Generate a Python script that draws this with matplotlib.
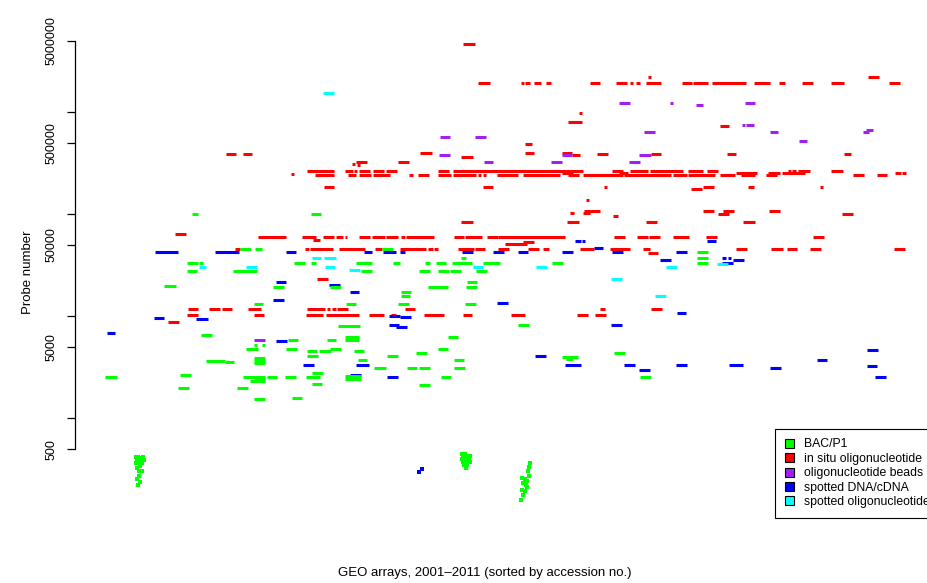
"""
GEO arrays: probe number per array, coloured by technology.
"""

import matplotlib

matplotlib.use("Agg")
import matplotlib.pyplot as plt
from matplotlib.patches import Patch
from matplotlib.ticker import FixedLocator, NullFormatter

plt.rcParams["font.family"] = ["Liberation Sans", "DejaVu Sans"]

# categories and colours (R named colours)
categories = ["BAC/P1", "in situ oligonucleotide", "oligonucleotide beads",
              "spotted DNA/cDNA", "spotted oligonucleotide"]
colors = ["#00FF00", "#FF0000", "#A020F0", "#0000FF", "#00FFFF"]

# runs of consecutive arrays on the same platform: (first array, last array, probe number)
red_runs = [
    (463, 475, 4670000),
    (648, 651, 2220000), (868, 879, 2220000),
    (478, 490, 1940000), (521, 524, 1940000), (525, 530, 1940000), (534, 541, 1940000),
    (546, 551, 1940000), (590, 600, 1940000), (616, 627, 1940000), (630, 633, 1940000),
    (636, 640, 1940000), (646, 661, 1940000), (682, 692, 1940000), (693, 708, 1940000),
    (712, 746, 1940000), (754, 770, 1940000), (779, 785, 1940000), (802, 813, 1940000),
    (831, 844, 1940000), (889, 900, 1940000),
    (579, 582, 984000), (568, 582, 803000), (720, 729, 734000), (525, 532, 489000),
    (420, 432, 399000), (525, 534, 399000), (562, 572, 399000),
    (226, 236, 390000), (243, 252, 390000), (597, 608, 390000), (651, 661, 390000),
    (727, 736, 390000), (844, 851, 390000),
    (572, 580, 381000), (461, 473, 365000),
    (356, 367, 326000), (398, 409, 326000), (352, 355, 311000), (357, 360, 304000),
    (291, 294, 248000),
    (307, 334, 265000), (345, 353, 265000), (354, 357, 265000), (359, 370, 265000),
    (373, 384, 265000), (386, 397, 265000), (438, 449, 265000), (453, 583, 265000),
    (612, 623, 265000), (630, 648, 265000), (650, 683, 265000), (688, 703, 265000),
    (707, 718, 265000), (788, 791, 265000), (792, 796, 265000), (798, 810, 265000),
    (831, 843, 265000),
    (562, 573, 254000), (619, 628, 254000), (736, 757, 254000), (768, 780, 254000),
    (782, 805, 254000), (895, 901, 254000), (902, 906, 254000),
    (315, 334, 243000), (348, 356, 243000), (359, 371, 243000), (373, 390, 243000),
    (409, 413, 243000), (418, 429, 243000), (438, 451, 243000), (453, 476, 243000),
    (478, 481, 243000), (483, 486, 243000), (497, 518, 243000), (523, 560, 243000),
    (568, 579, 243000), (583, 623, 243000), (624, 665, 243000), (654, 671, 243000),
    (673, 687, 243000), (688, 715, 243000), (720, 735, 243000), (741, 755, 243000),
    (766, 777, 243000), (853, 864, 243000), (877, 887, 243000),
    (324, 334, 185000), (483, 493, 185000), (604, 607, 185000), (703, 714, 185000),
    (748, 754, 185000), (820, 823, 185000),
    (691, 702, 177000), (586, 589, 138000),
    (584, 600, 108000), (703, 714, 108000), (723, 734, 108000), (769, 780, 108000),
    (570, 574, 103000), (583, 590, 103000),
    (718, 729, 100700), (842, 853, 100700), (613, 618, 96200),
    (461, 473, 84000), (567, 579, 84000), (646, 657, 84000), (743, 755, 84000),
    (175, 186, 64100),
    (258, 286, 59800), (302, 316, 59800), (323, 334, 59800), (336, 343, 59800),
    (345, 347, 59800), (359, 370, 59800), (372, 385, 59800), (386, 398, 59800),
    (401, 405, 59800), (406, 434, 59800), (454, 464, 59800), (465, 482, 59800),
    (487, 498, 59800), (498, 565, 59800), (614, 625, 59800), (637, 648, 59800),
    (649, 660, 59800), (673, 689, 59800), (706, 717, 59800), (813, 824, 59800),
    (313, 320, 55900), (523, 534, 53500), (505, 527, 51100),
    (235, 240, 45700), (305, 309, 45700), (310, 333, 45700), (339, 365, 45700),
    (375, 382, 45700), (400, 426, 45700), (428, 433, 45700), (434, 438, 45700),
    (458, 474, 45700), (475, 485, 45700), (498, 509, 45700), (528, 539, 45700),
    (543, 549, 45700), (580, 594, 45700), (610, 630, 45700), (643, 650, 45700),
    (736, 747, 45700), (771, 783, 45700), (787, 797, 45700), (810, 821, 45700),
    (894, 905, 45700),
    (648, 658, 41800), (317, 328, 23200),
    (188, 198, 11800), (209, 220, 11800), (222, 232, 11800), (248, 261, 11800),
    (307, 325, 11800), (327, 330, 11800), (332, 336, 11800), (337, 348, 11800),
    (405, 415, 11800), (600, 605, 11800), (651, 662, 11800),
    (187, 198, 10300), (254, 264, 10300), (306, 323, 10300), (326, 359, 10300),
    (369, 384, 10300), (391, 396, 10300), (424, 444, 10300), (463, 472, 10300),
    (511, 525, 10300), (577, 588, 10300), (595, 606, 10300),
    (168, 179, 8790),
]

blue_runs = [
    (575, 581, 54700), (582, 585, 54700), (707, 716, 54700), (594, 603, 46700),
    (155, 178, 42700), (215, 239, 42700), (286, 296, 42700), (364, 372, 42700),
    (383, 396, 42700), (400, 405, 42700), (462, 473, 42700), (493, 504, 42700),
    (518, 528, 42700), (562, 573, 42700), (612, 623, 42700), (676, 687, 42700),
    (722, 726, 37300), (728, 731, 37300), (660, 671, 35600), (733, 744, 35600),
    (722, 733, 33300),
    (276, 286, 21700), (329, 340, 20300), (350, 359, 17300), (273, 284, 14500),
    (497, 508, 13500), (677, 686, 10800), (389, 400, 10070), (400, 411, 9840),
    (154, 164, 9620), (196, 208, 9400), (389, 399, 8220), (611, 622, 8220),
    (396, 407, 7850), (107, 115, 6850), (276, 287, 5730), (867, 878, 4670),
    (535, 546, 4080), (817, 827, 3730),
    (303, 314, 3330), (356, 369, 3330), (565, 581, 3330), (624, 635, 3330),
    (676, 687, 3330), (729, 743, 3330),
    (867, 877, 3260), (770, 781, 3110), (639, 650, 2970), (350, 361, 2660),
    (387, 398, 2540), (875, 886, 2540),
]

purple_runs = [
    (619, 630, 1233000), (670, 673, 1233000), (745, 755, 1233000), (696, 703, 1180000),
    (742, 745, 750000), (746, 754, 750000), (866, 873, 670000),
    (644, 655, 641000), (770, 778, 641000), (863, 869, 641000),
    (440, 450, 573000), (475, 486, 573000), (799, 807, 523000),
    (439, 450, 381000), (562, 572, 381000), (639, 651, 381000),
    (484, 493, 326000), (551, 562, 326000), (629, 640, 326000),
    (254, 265, 5860),
]

cyan_runs = [
    (323, 334, 1545000), (312, 321, 37300), (324, 336, 37300), (717, 728, 32600),
    (199, 206, 30400), (246, 257, 30400), (325, 335, 30400), (473, 483, 30400),
    (536, 547, 30400), (666, 677, 30400), (349, 360, 28400), (611, 622, 23000),
    (655, 666, 15800),
]

green_runs = [
    (192, 198, 100700), (311, 321, 100700),
    (240, 251, 45700), (255, 262, 45700), (382, 393, 45700),
    (697, 708, 42700), (461, 466, 37300), (697, 708, 37300),
    (187, 198, 33300), (199, 203, 33300), (294, 305, 33300), (311, 316, 33300),
    (356, 372, 33300), (393, 400, 33300), (425, 430, 33300), (436, 446, 33300),
    (452, 472, 33300), (483, 500, 33300), (552, 563, 33300), (697, 708, 33300),
    (187, 197, 27800), (233, 257, 27800), (361, 372, 27800), (419, 430, 27800),
    (438, 449, 27800), (450, 461, 27800), (476, 487, 27800),
    (467, 477, 21700), (164, 176, 19800),
    (273, 284, 19400), (330, 341, 19400), (428, 448, 19400), (466, 477, 19400),
    (401, 411, 17300), (401, 410, 15800),
    (254, 263, 13200), (346, 356, 13200), (398, 409, 13200), (465, 476, 13200),
    (518, 529, 8220), (338, 360, 8030), (201, 212, 6560),
    (448, 458, 6270), (345, 359, 6270),
    (288, 298, 5860), (327, 336, 5860), (345, 359, 5860),
    (254, 257, 5230), (262, 265, 5230),
    (246, 258, 4780), (286, 297, 4780), (330, 341, 4780), (438, 448, 4780),
    (307, 317, 4570), (319, 331, 4570), (354, 364, 4570),
    (416, 427, 4360), (614, 625, 4360),
    (307, 318, 4080), (387, 398, 4080), (562, 578, 3990), (254, 265, 3900),
    (566, 573, 3810), (358, 367, 3730), (454, 464, 3730),
    (206, 225, 3650), (254, 265, 3650), (225, 234, 3560), (254, 265, 3480),
    (374, 386, 3110), (407, 417, 3110), (419, 430, 3110), (454, 465, 3110),
    (312, 323, 2780), (180, 191, 2660), (345, 361, 2600),
    (105, 117, 2540), (243, 265, 2540), (267, 277, 2540), (285, 296, 2540),
    (306, 320, 2540), (441, 451, 2540), (640, 651, 2540),
    (345, 361, 2430), (254, 265, 2430), (250, 265, 2320),
    (312, 322, 2170), (419, 430, 2120), (178, 189, 1980), (237, 248, 1980),
    (292, 302, 1580), (254, 265, 1545),
]

# single arrays with scattered probe numbers
green_pts_x = [136, 138, 140, 143, 137, 139, 141, 144, 136, 138, 142, 140, 137, 139,
               142, 139, 137, 140, 138,
               462, 465, 463, 467, 470, 462, 466, 469, 463, 467, 470, 464, 467, 466,
               530, 529, 528, 529, 522, 525, 527, 523, 526, 527, 522, 525, 523, 521]
green_pts_y = [418, 418, 408, 418, 390, 381, 390, 390, 365, 365, 365, 340, 326, 304,
               304, 272, 254, 237, 222,
               447, 447, 427, 427, 427, 399, 399, 399, 373, 373, 373, 348, 348, 325,
               365, 333, 304, 272, 260, 254, 243, 232, 222, 212, 198, 194, 177, 158]
blue_pts_x = [419, 422]
blue_pts_y = [298, 318]

runs = [green_runs, red_runs, purple_runs, blue_runs, cyan_runs]
draw_order = [1, 3, 0, 2, 4]

W, H = 928, 583
fig = plt.figure(figsize=(W / 100, H / 100), dpi=100)
ax = fig.add_axes([75 / W, 65 / H, 862 / W, 492 / H])

LW = 2.2  # point height ~3 px
for i in draw_order:
    for x0, x1, p in runs[i]:
        ax.hlines(p, x0, x1, colors=colors[i], linewidth=LW, capstyle="butt")
ax.scatter(green_pts_x, green_pts_y, marker="s", s=5, color=colors[0], linewidths=0)
ax.scatter(blue_pts_x, blue_pts_y, marker="s", s=5, color=colors[3], linewidths=0)

ax.set_yscale("log")
ax.set_xlim(75, 937)
ax.set_ylim(105.5, 7.02e6)

for s in ["top", "right", "bottom"]:
    ax.spines[s].set_visible(False)
ax.spines["left"].set_bounds(500, 5e6)
ax.spines["left"].set_linewidth(0.9)
ax.set_xticks([])
ax.yaxis.set_major_locator(FixedLocator([500, 5000, 50000, 500000, 5000000]))
ax.yaxis.set_minor_locator(FixedLocator([1000, 10000, 100000, 1000000]))
ax.yaxis.set_minor_formatter(NullFormatter())
ax.set_yticklabels(["500", "5000", "50000", "500000", "5000000"], rotation=90,
                   va="center", fontsize=9)
ax.tick_params(axis="y", which="both", length=5.8, width=0.9, pad=7)

ax.set_ylabel("Probe number", fontsize=9.5, labelpad=8)
ax.set_xlabel("GEO arrays, 2001\u20132011 (sorted by accession no.)", fontsize=9.5)
ax.xaxis.set_label_coords((485 - 75) / 862, -0.10)

handles = [Patch(facecolor=c, edgecolor="black", linewidth=0.8) for c in colors]
leg = ax.legend(handles, categories, loc="lower left",
                bbox_to_anchor=((775 - 75) / 862, 0), borderaxespad=0,
                fontsize=8.8, fancybox=False, framealpha=1, edgecolor="black",
                handlelength=0.75, handleheight=0.75, handletextpad=0.8,
                labelspacing=0.2, borderpad=0.8)
leg.get_frame().set_linewidth(0.8)

fig.savefig("out.png", dpi=100)
